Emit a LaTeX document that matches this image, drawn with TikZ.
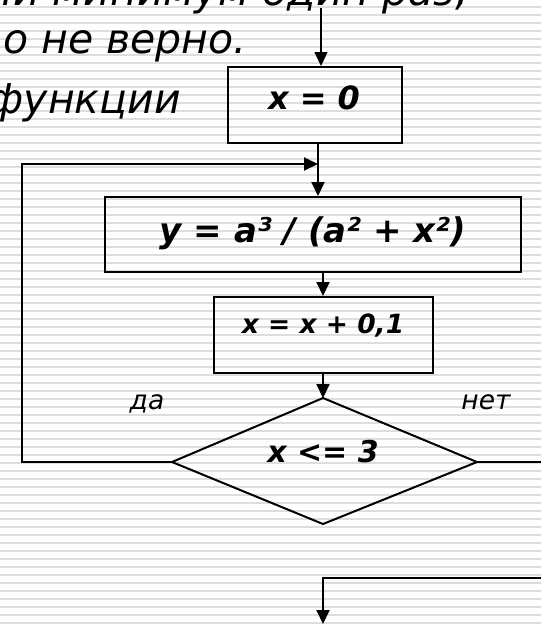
\documentclass[tikz,border=0pt]{standalone}
\usepackage{fontspec}
\setmainfont{DejaVu Sans}[ItalicFont={DejaVu Sans Oblique},BoldFont={DejaVu Sans Bold},BoldItalicFont={DejaVu Sans Bold Oblique}]
\usetikzlibrary{arrows.meta}
\definecolor{stripecol}{HTML}{DDDDDD}
\begin{document}
\begin{tikzpicture}[x=1pt,y=-1pt,
  boxshape/.style={draw, line width=2pt, inner sep=0pt, rectangle},
  conn/.style={line width=1.9pt},
  arr/.style={conn, -{Triangle[width=13pt,length=14pt]}},
  toptxt/.style={inner sep=0pt, font=\fontsize{41}{41}\selectfont\itshape},
  btxt/.style={inner sep=0pt, anchor=base, font=\bfseries\itshape},
  lbl/.style={inner sep=0pt, anchor=base, font=\fontsize{26.5}{26.5}\selectfont\itshape}]
\useasboundingbox (0,0) rectangle (541,625);
\clip (0,0) rectangle (541,625);
\fill[white] (0,0) rectangle (541,625);
\foreach \k in {0,...,78} \fill[stripecol] (0,{8*\k+6}) rectangle (541,{8*\k+8});
% top text lines
\node[toptxt, anchor=base east] (t1) at (469,5) {ли минимум один раз,};
\node[toptxt, anchor=base east] (t2) at (247,53) {о не верно.};
\node[toptxt, anchor=base east] (t3) at (181,113) {функции};
% boxes
\node[boxshape, minimum width=174pt, minimum height=76pt] (b0) at (315,105) {};
\node[btxt, font=\fontsize{32}{32}\selectfont\bfseries\itshape] (l0) at (314,109) {x = 0};
\node[boxshape, minimum width=416pt, minimum height=75pt] (b1) at (313,234.5) {};
\node[btxt, font=\fontsize{34}{34}\selectfont\bfseries\itshape] (l1) at (313,242) {y = a³ / (a² + x²)};
\node[boxshape, minimum width=219pt, minimum height=76pt] (b2) at (323.5,335) {};
\node[btxt, font=\fontsize{26.5}{26.5}\selectfont\bfseries\itshape] (l2) at (323,333) {x = x + 0,1};
% diamond
\coordinate (dT) at (323,398);
\coordinate (dR) at (477,462);
\coordinate (dB) at (323,524);
\coordinate (dL) at (172,462);
\draw[line width=2pt, line join=miter] (dT) -- (dR) -- (dB) -- (dL) -- cycle;
\node[btxt, font=\fontsize{30}{30}\selectfont\bfseries\itshape] (l3) at (323,462) {x <= 3};
\node[lbl] (yes) at (147,409) {да};
\node[lbl] (no) at (486,409) {нет};
% connectors
\coordinate (in) at (321,8);
\draw[line width=1.3pt, -{Triangle[width=13pt,length=14pt]}] (in) -- (in |- b0.north);
\coordinate (j) at (318,164);
\draw[arr] (b0.south -| j) -- (b1.north -| j);
\coordinate (fl) at (22,462);
\coordinate (ft) at (22,164);
\draw[arr] (dL) -- (fl) -- (ft) -- (j);
\draw[arr] (b1.south -| dT) -- (b2.north -| dT);
\draw[arr] (b2.south -| dT) -- (dT);
\coordinate (r1) at (544,462);
\draw[conn] (dR) -- (r1);
\coordinate (r2) at (544,578);
\coordinate (r3) at (323,578);
\coordinate (out) at (323,624);
\draw[arr] (r2) -- (r3) -- (out);
\end{tikzpicture}
\end{document}
